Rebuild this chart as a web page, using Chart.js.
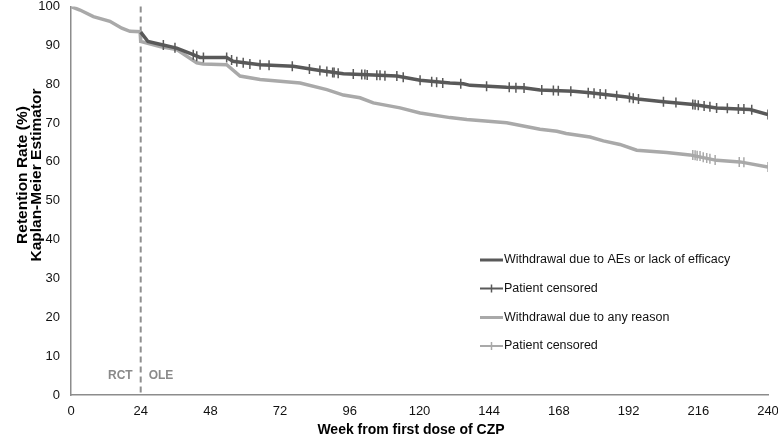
<!DOCTYPE html>
<html>
<head>
<meta charset="utf-8">
<script src="https://cdn.jsdelivr.net/npm/chart.js@4"></script>
<style>
  html, body { margin: 0; padding: 0; background: #fff; }
  #wrap { width: 778px; height: 438px; }
</style>
</head>
<body>
<div id="wrap"><canvas id="km"></canvas></div>
<script>
// Withdrawal due to AEs or lack of efficacy (starts at OLE)
const aeWeeks = [24, 26.5, 30.6, 36.4, 42.1, 44.4, 53.6, 55.8, 65.1, 76.5, 85.7, 93.8, 112.2, 120.2, 130.5, 135.1, 137.4, 150.0, 155.8, 161.5, 173.0, 178.7, 191.4, 195.9, 204.0, 214.3, 222.3, 233.8, 240];
const aeRate  = [93.4, 91.0, 90.3, 89.3, 87.6, 86.9, 86.9, 85.9, 85.0, 84.6, 83.5, 82.7, 82.1, 81.0, 80.3, 80.1, 79.7, 79.2, 79.1, 78.5, 78.2, 77.8, 76.7, 76.1, 75.5, 74.8, 73.9, 73.5, 72.2];

// Withdrawal due to any reason
const anyWeeks = [0, 3.1, 7.7, 13.4, 17.5, 20.3, 23.8, 24, 30.6, 36.4, 43.3, 45.5, 53.6, 58.2, 65.1, 78.9, 88.1, 93.8, 99.5, 104.1, 113.3, 120.2, 130.5, 136.3, 150.0, 161.5, 167.3, 170.5, 178.7, 183.3, 189.0, 194.8, 205.1, 213.1, 222.3, 230.4, 240];
const anyRate  = [100, 99.1, 97.4, 96.2, 94.4, 93.6, 93.5, 91.0, 89.7, 88.9, 85.5, 85.2, 85.0, 82.1, 81.2, 80.3, 78.6, 77.2, 76.5, 75.2, 73.9, 72.6, 71.4, 70.9, 70.1, 68.4, 67.9, 67.3, 66.4, 65.4, 64.5, 63.0, 62.4, 61.8, 60.4, 60.0, 58.7];

// censored patients
const aeCensorWeeks = [31.8, 35.8, 42.1, 43.3, 45.6, 53.6, 55.3, 57.1, 59.3, 61.6, 65.1, 68.2, 76.2, 82.1, 85.7, 88.1, 90.1, 90.6, 92.0, 97.2, 100.1, 101.2, 102.0, 105.3, 106.4, 108.1, 112.2, 114.4, 120.2, 124.2, 125.9, 128.0, 134.2, 143.1, 150.9, 153.2, 156.0, 162.1, 166.1, 167.8, 172.1, 178.1, 180.1, 182.2, 184.1, 187.9, 192.3, 193.6, 195.4, 204.0, 208.3, 214.1, 214.9, 216.0, 218.0, 220.0, 222.3, 226.0, 229.8, 231.7, 234.4, 240];
const aeCensorRate  = [90.1, 89.4, 87.6, 87.2, 86.9, 86.9, 86.2, 85.8, 85.5, 85.2, 85.0, 84.9, 84.6, 83.9, 83.5, 83.3, 83.0, 83.0, 82.8, 82.6, 82.5, 82.5, 82.4, 82.3, 82.3, 82.2, 82.1, 81.8, 81.0, 80.6, 80.5, 80.3, 80.1, 79.5, 79.2, 79.1, 79.0, 78.5, 78.4, 78.3, 78.2, 77.8, 77.7, 77.5, 77.4, 77.0, 76.6, 76.4, 76.2, 75.5, 75.3, 74.8, 74.7, 74.6, 74.4, 74.2, 73.9, 73.8, 73.6, 73.6, 73.4, 72.2];
const anyCensorWeeks = [214.1, 214.9, 215.6, 216.6, 217.7, 218.9, 220.0, 221.8, 230.1, 231.7, 240];
const anyCensorRate  = [61.8, 61.7, 61.6, 61.5, 61.2, 61.0, 60.8, 60.5, 60.0, 59.9, 58.7];

const xTicks = [0, 24, 48, 72, 96, 120, 144, 168, 192, 216, 240];
const legendLabels = ['Withdrawal due to AEs or lack of efficacy', 'Patient censored', 'Withdrawal due to any reason', 'Patient censored'];

const darkGrey = '#595959';
const lightGrey = '#a9a9a9';
const axisGrey = '#8c8c8c';
const FONT = '"Liberation Sans", Arial, Helvetica, sans-serif';

function toPoints(xs, ys) {
    return xs.map((x, i) => ({ x: x, y: ys[i] }));
}

// dashed RCT/OLE divider, axis titles and the legend
const extras = {
    id: 'extras',
    beforeDatasetsDraw(chart) {
        const { ctx, chartArea, scales } = chart;
        const xv = scales.x.getPixelForValue(24);
        ctx.save();
        ctx.strokeStyle = '#8f8f8f';
        ctx.lineWidth = 2;
        ctx.setLineDash([6, 4]);
        ctx.beginPath();
        ctx.moveTo(xv, chartArea.top);
        ctx.lineTo(xv, chartArea.bottom);
        ctx.stroke();
        ctx.setLineDash([]);
        ctx.fillStyle = '#8a8a8a';
        ctx.font = 'bold 12px ' + FONT;
        ctx.textBaseline = 'middle';
        ctx.textAlign = 'right';
        ctx.fillText('RCT', xv - 8, 376);
        ctx.textAlign = 'left';
        ctx.fillText('OLE', xv + 8, 376);
        ctx.restore();
    },
    afterDraw(chart) {
        const { ctx } = chart;
        ctx.save();
        ctx.fillStyle = '#000';
        ctx.font = 'bold 14px ' + FONT;
        ctx.textAlign = 'center';
        ctx.textBaseline = 'middle';
        ctx.fillText('Week from first dose of CZP', 411, 430);

        ctx.font = 'bold 15.5px ' + FONT;
        ctx.translate(30, 175);
        ctx.rotate(-Math.PI / 2);
        ctx.fillText('Retention Rate (%)', 0, -7.5);
        ctx.fillText('Kaplan-Meier Estimator', 0, 7);
        ctx.restore();

        // legend
        ctx.save();
        const rows = [260, 288.5, 317.5, 346];
        const cols = [darkGrey, darkGrey, lightGrey, lightGrey];
        ctx.font = '12.5px ' + FONT;
        ctx.textBaseline = 'middle';
        ctx.textAlign = 'left';
        rows.forEach((y, i) => {
            ctx.strokeStyle = cols[i];
            ctx.lineWidth = i % 2 ? 2 : 3;
            ctx.beginPath();
            ctx.moveTo(480, y);
            ctx.lineTo(503, y);
            ctx.stroke();
            if (i % 2) {
                ctx.lineWidth = 1.5;
                ctx.beginPath();
                ctx.moveTo(491.5, y - 4);
                ctx.lineTo(491.5, y + 4);
                ctx.stroke();
            }
            ctx.fillStyle = '#111';
            ctx.fillText(legendLabels[i], 504, y);
        });
        ctx.restore();
    }
};

new Chart(document.getElementById('km'), {
    type: 'line',
    data: {
        datasets: [
            {
                label: legendLabels[1],
                data: toPoints(aeCensorWeeks, aeCensorRate),
                showLine: false,
                pointStyle: 'line',
                rotation: 90,
                pointRadius: 5,
                pointBorderWidth: 1.5,
                borderColor: darkGrey,
                backgroundColor: darkGrey
            },
            {
                label: legendLabels[0],
                data: toPoints(aeWeeks, aeRate),
                borderColor: darkGrey,
                borderWidth: 3.5,
                pointRadius: 0,
                tension: 0
            },
            {
                label: legendLabels[3],
                data: toPoints(anyCensorWeeks, anyCensorRate),
                showLine: false,
                pointStyle: 'line',
                rotation: 90,
                pointRadius: 5,
                pointBorderWidth: 1.5,
                borderColor: lightGrey,
                backgroundColor: lightGrey
            },
            {
                label: legendLabels[2],
                data: toPoints(anyWeeks, anyRate),
                borderColor: lightGrey,
                borderWidth: 3.5,
                pointRadius: 0,
                tension: 0
            }
        ]
    },
    options: {
        responsive: true,
        maintainAspectRatio: false,
        animation: false,
        layout: { padding: 0 },
        plugins: {
            legend: { display: false },
            tooltip: { enabled: false }
        },
        scales: {
            x: {
                type: 'linear',
                min: 0,
                max: 240,
                afterBuildTicks: (s) => { s.ticks = xTicks.map(v => ({ value: v })); },
                afterFit: (s) => { s.height = 43; s.paddingLeft = 0; s.paddingRight = 10; },
                grid: { display: false, drawTicks: true, tickLength: 5, color: axisGrey },
                border: { color: axisGrey, width: 1.5 },
                ticks: { color: '#111', font: { family: FONT, size: 13 }, padding: 4, maxRotation: 0 }
            },
            y: {
                min: 0,
                max: 100,
                ticks: { stepSize: 10, color: '#111', font: { family: FONT, size: 13 }, padding: 6 },
                afterFit: (s) => { s.width = 71; s.paddingTop = 5; s.paddingBottom = 0; },
                grid: { display: false, drawTicks: true, tickLength: 5, color: axisGrey },
                border: { color: axisGrey, width: 1.5 }
            }
        }
    },
    plugins: [extras]
});
</script>
</body>
</html>
